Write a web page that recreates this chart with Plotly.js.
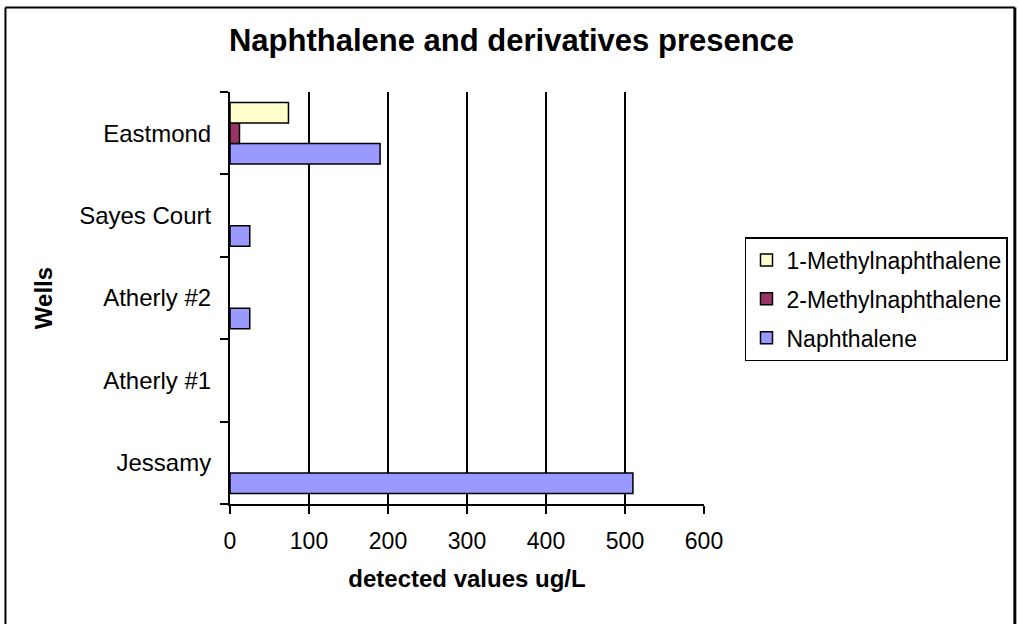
<!DOCTYPE html>
<html>
<head>
<meta charset="utf-8">
<script src="https://cdn.plot.ly/plotly-3.0.1.min.js"></script>
<style>html,body{margin:0;padding:0;background:#fff;}#chart{width:1019px;height:624px;}</style>
</head>
<body>
<div id="chart"></div>
<script>
// Data (categories bottom -> top as drawn)
var wells = ['Jessamy', 'Atherly #1', 'Atherly #2', 'Sayes Court', 'Eastmond'];
var naphthalene = [510, null, 25, 25, 190];
var methyl2 = [null, null, null, null, 12];
var methyl1 = [null, null, null, null, 74];
var xTicks = [0, 100, 200, 300, 400, 500, 600];

var font = 'Arial, "Liberation Sans", sans-serif';
var outline = {color: '#000000', width: 1.5};

var traces = [
  {type: 'bar', orientation: 'h', name: 'Naphthalene', y: wells, x: naphthalene,
   marker: {color: '#9999FF', line: outline}, legendgroup: 'c', legendrank: 3, hoverinfo: 'x+name'},
  {type: 'bar', orientation: 'h', name: '2-Methylnaphthalene', y: wells, x: methyl2,
   marker: {color: '#993366', line: outline}, legendgroup: 'b', legendrank: 2, hoverinfo: 'x+name'},
  {type: 'bar', orientation: 'h', name: '1-Methylnaphthalene', y: wells, x: methyl1,
   marker: {color: '#FFFFCC', line: outline}, legendgroup: 'a', legendrank: 1, hoverinfo: 'x+name'}
];

var layout = {
  width: 1019, height: 624,
  margin: {l: 230, r: 314, t: 92, b: 120, pad: 0},
  paper_bgcolor: '#ffffff', plot_bgcolor: '#ffffff',
  font: {family: font, color: '#000000', size: 22},
  barmode: 'group', bargap: 0.254, bargroupgap: 0,
  title: {text: '<b>Naphthalene and derivatives presence</b>', font: {family: font, size: 31, color: '#000'},
          x: 0.502, xref: 'container', xanchor: 'center', y: 0.936, yref: 'container', yanchor: 'middle'},
  xaxis: {
    range: [0, 600], tickvals: xTicks, ticktext: xTicks.map(String),
    showgrid: true, gridcolor: '#000000', gridwidth: 2,
    zeroline: false, showline: true, linecolor: '#000000', linewidth: 2,
    ticks: 'outside', ticklen: 8, tickwidth: 2, tickcolor: '#000',
    tickfont: {family: font, size: 23, color: '#000'}, ticklabelstandoff: 7,
    title: {text: '<b>detected values ug/L</b>', font: {family: font, size: 24, color: '#000'}, standoff: 18},
    fixedrange: true
  },
  yaxis: {
    type: 'category', categoryorder: 'array', categoryarray: wells,
    showgrid: false, zeroline: false, showline: true, linecolor: '#000000', linewidth: 2,
    ticks: 'outside', tickson: 'boundaries', ticklen: 8, tickwidth: 2, tickcolor: '#000',
    tickfont: {family: font, size: 24, color: '#000'}, ticklabelstandoff: 12,
    title: {text: '<b>Wells</b>', font: {family: font, size: 24, color: '#000'}, standoff: 20},
    fixedrange: true
  },
  showlegend: true,
  legend: {
    x: 1.0842, y: 0.648, xanchor: 'left', yanchor: 'top',
    traceorder: 'grouped', tracegroupgap: 6, itemwidth: 30,
    bgcolor: '#ffffff', bordercolor: '#000000', borderwidth: 1.5,
    font: {family: font, size: 23, color: '#000'}
  },
  shapes: [
    {type: 'line', xref: 'paper', yref: 'paper', x0: -0.4737, x1: -0.4737, y0: 1.2051, y1: -0.35, line: {color: '#000', width: 2}},
    {type: 'line', xref: 'paper', yref: 'paper', x0: -0.4737, x1: 1.6558, y0: 1.2051, y1: 1.2051, line: {color: '#000', width: 2}},
    {type: 'line', xref: 'paper', yref: 'paper', x0: 1.6558, x1: 1.6558, y0: 1.2051, y1: -0.35, line: {color: '#000', width: 3}}
  ]
};

Plotly.newPlot('chart', traces, layout, {displayModeBar: false, staticPlot: true});
</script>
</body>
</html>
